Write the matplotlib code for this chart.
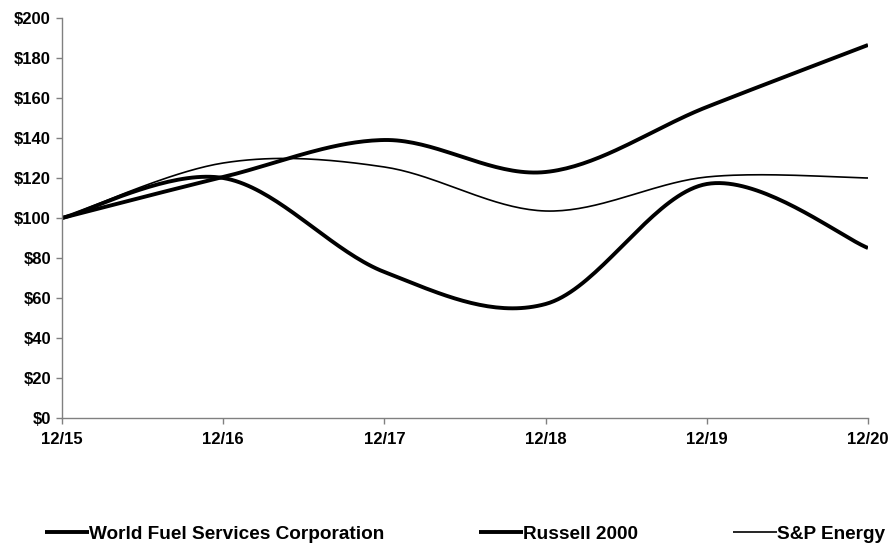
import numpy as np
import matplotlib.pyplot as plt

# cumulative total return, $100 invested 12/15
periods = ['12/15', '12/16', '12/17', '12/18', '12/19', '12/20']
wfs = [100, 120, 73, 57, 117, 85]
russell = [100, 120.5, 139, 123, 155.5, 186.5]
sp_energy = [100, 127.5, 125.5, 103.5, 120.5, 120]


def smooth(xs, ys, n=40):
    # excel-style smoothed line: bezier segments with catmull-rom control points
    xs = np.asarray(xs, float)
    ys = np.asarray(ys, float)
    px = np.concatenate([[xs[0]], xs, [xs[-1]]])
    py = np.concatenate([[ys[0]], ys, [ys[-1]]])
    t = np.linspace(0, 1, n)
    outx, outy = [], []
    for i in range(1, len(px) - 2):
        p0 = np.array([px[i], py[i]])
        p3 = np.array([px[i + 1], py[i + 1]])
        c1 = p0 + (np.array([px[i + 1], py[i + 1]]) - np.array([px[i - 1], py[i - 1]])) / 6
        c2 = p3 - (np.array([px[i + 2], py[i + 2]]) - np.array([px[i], py[i]])) / 6
        b = ((1 - t) ** 3)[:, None] * p0 + (3 * (1 - t) ** 2 * t)[:, None] * c1 \
            + (3 * (1 - t) * t ** 2)[:, None] * c2 + (t ** 3)[:, None] * p3
        outx.extend(b[:, 0])
        outy.extend(b[:, 1])
    return outx, outy


plt.rcParams['font.family'] = ['Liberation Sans', 'DejaVu Sans']
plt.rcParams['font.weight'] = 'bold'

fig = plt.figure(figsize=(8.91, 5.45), dpi=100)
ax = fig.add_axes([62 / 891, 1 - 418 / 545, (868 - 62) / 891, 400 / 545])

x = np.arange(len(periods))
for vals, lw, name in [(wfs, 2.8, 'World Fuel Services Corporation'),
                       (russell, 2.8, 'Russell 2000'),
                       (sp_energy, 1.2, 'S&P Energy')]:
    sx, sy = smooth(x, vals)
    ax.plot(sx, sy, color='black', lw=lw, label=name, solid_capstyle='butt')

ax.set_xlim(0, len(periods) - 1)
ax.set_ylim(0, 200)
ax.set_xticks(x)
ax.set_xticklabels(periods)
ax.set_yticks(range(0, 201, 20))
ax.set_yticklabels(['$%d' % v for v in range(0, 201, 20)])
ax.tick_params(axis='both', labelsize=12, color='#808080', length=4, width=1)
ax.tick_params(axis='x', pad=6)
ax.tick_params(axis='y', pad=4)
for s in ['top', 'right']:
    ax.spines[s].set_visible(False)
for s in ['left', 'bottom']:
    ax.spines[s].set_color('#808080')
    ax.spines[s].set_linewidth(1)

fig.legend(loc='center', bbox_to_anchor=(465 / 891, 1 - 534 / 545), ncol=3, frameon=False,
           fontsize=13.7, handlelength=2.3, handletextpad=0.0, columnspacing=5.0,
           borderpad=0.1)

fig.savefig('out.png', dpi=100)
